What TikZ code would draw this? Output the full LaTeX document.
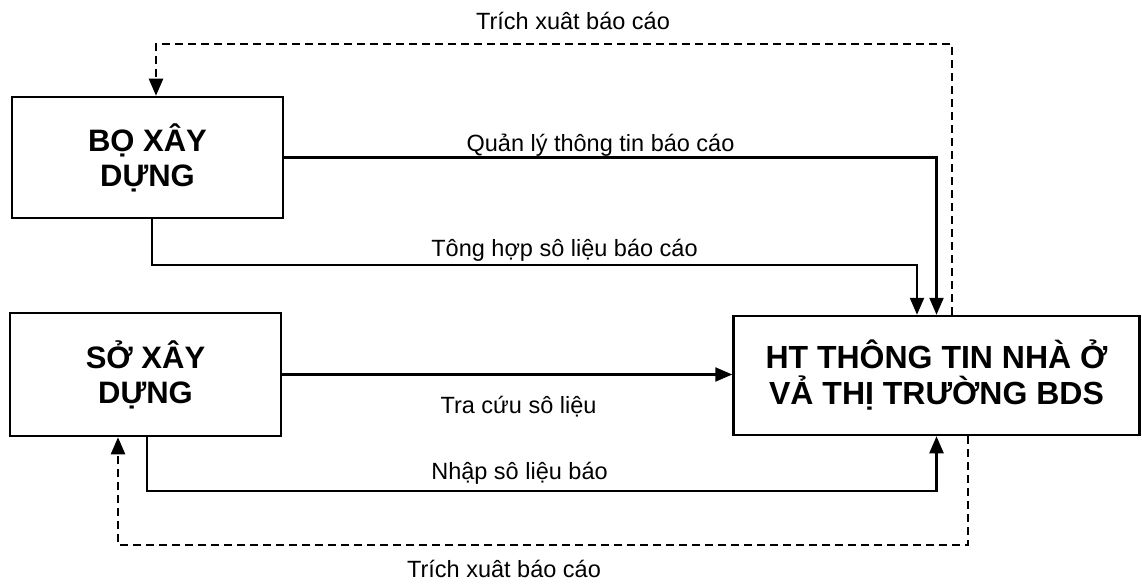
\documentclass[tikz,border=0pt]{standalone}
\usepackage{fontspec}
\setmainfont{Liberation Sans}
\usetikzlibrary{arrows.meta}

\begin{document}
\begin{tikzpicture}[x=1pt, y=-1pt,
	box/.style={draw, line width=2.5pt, minimum width=271pt, minimum height=121pt, align=center, inner sep=0pt, font=\bfseries\fontsize{31}{35}\selectfont},
	lbl/.style={anchor=base, inner sep=0pt, font=\fontsize{23.5}{28}\selectfont},
	link/.style={line width=2.3pt, -{Triangle[length=17pt, width=14pt]}},
	dashlink/.style={link, dash pattern=on 8pt off 5pt}]

		\useasboundingbox (0,0) rectangle (1142,585);

		\node[box] (bo) at (147.5,157.5) {BỌ XÂY\\DỰNG};
		\node[box, minimum height=123pt] (so) at (145.5,374.5) {SỞ XÂY\\DỰNG};
		\node[box, minimum width=406pt, minimum height=119pt, font=\bfseries\fontsize{32}{36}\selectfont] (ht) at (936.5,375.5) {HT THÔNG TIN NHÀ Ở\\VẢ THỊ TRƯỜNG BDS};

		\coordinate (bo in) at ([xshift=8.5pt]bo.north);
		\coordinate (bo out) at ([xshift=4.5pt]bo.south);
		\coordinate (so in) at ([xshift=-27.5pt]so.south);
		\coordinate (so out) at ([xshift=1.5pt]so.south);
		\coordinate (ht top out) at ([xshift=15.5pt]ht.north);
		\coordinate (ht top in) at ([xshift=-19.5pt]ht.north);
		\coordinate (ht low out) at ([xshift=31.5pt]ht.south);

		\draw[dashlink] (ht top out) |- ([yshift=52pt]bo in) -- (bo in);
		\draw[link] (bo.east) -| (ht.north);
		\draw[link] (bo out) |- ([yshift=50pt]ht top in) -- (ht top in);
		\draw[link] (so.east) -- (so.east -| ht.west);
		\draw[link] (so out) |- ([yshift=-55pt]ht.south) -- (ht.south);
		\draw[dashlink] (ht low out) |- ([yshift=-108pt]so in) -- (so in);

		\node[lbl] (l1) at (573,30) {Trích xuât báo cáo};
		\node[lbl] (l2) at (600.5,152) {Quản lý thông tin báo cáo};
		\node[lbl] (l3) at (564.5,257) {Tông hợp sô liệu báo cáo};
		\node[lbl] (l4) at (518.5,413) {Tra cứu sô liệu};
		\node[lbl] (l5) at (519.5,479) {Nhập sô liệu báo};
		\node[lbl] (l6) at (504,577) {Trích xuât báo cáo};

	\end{tikzpicture}
\end{document}
